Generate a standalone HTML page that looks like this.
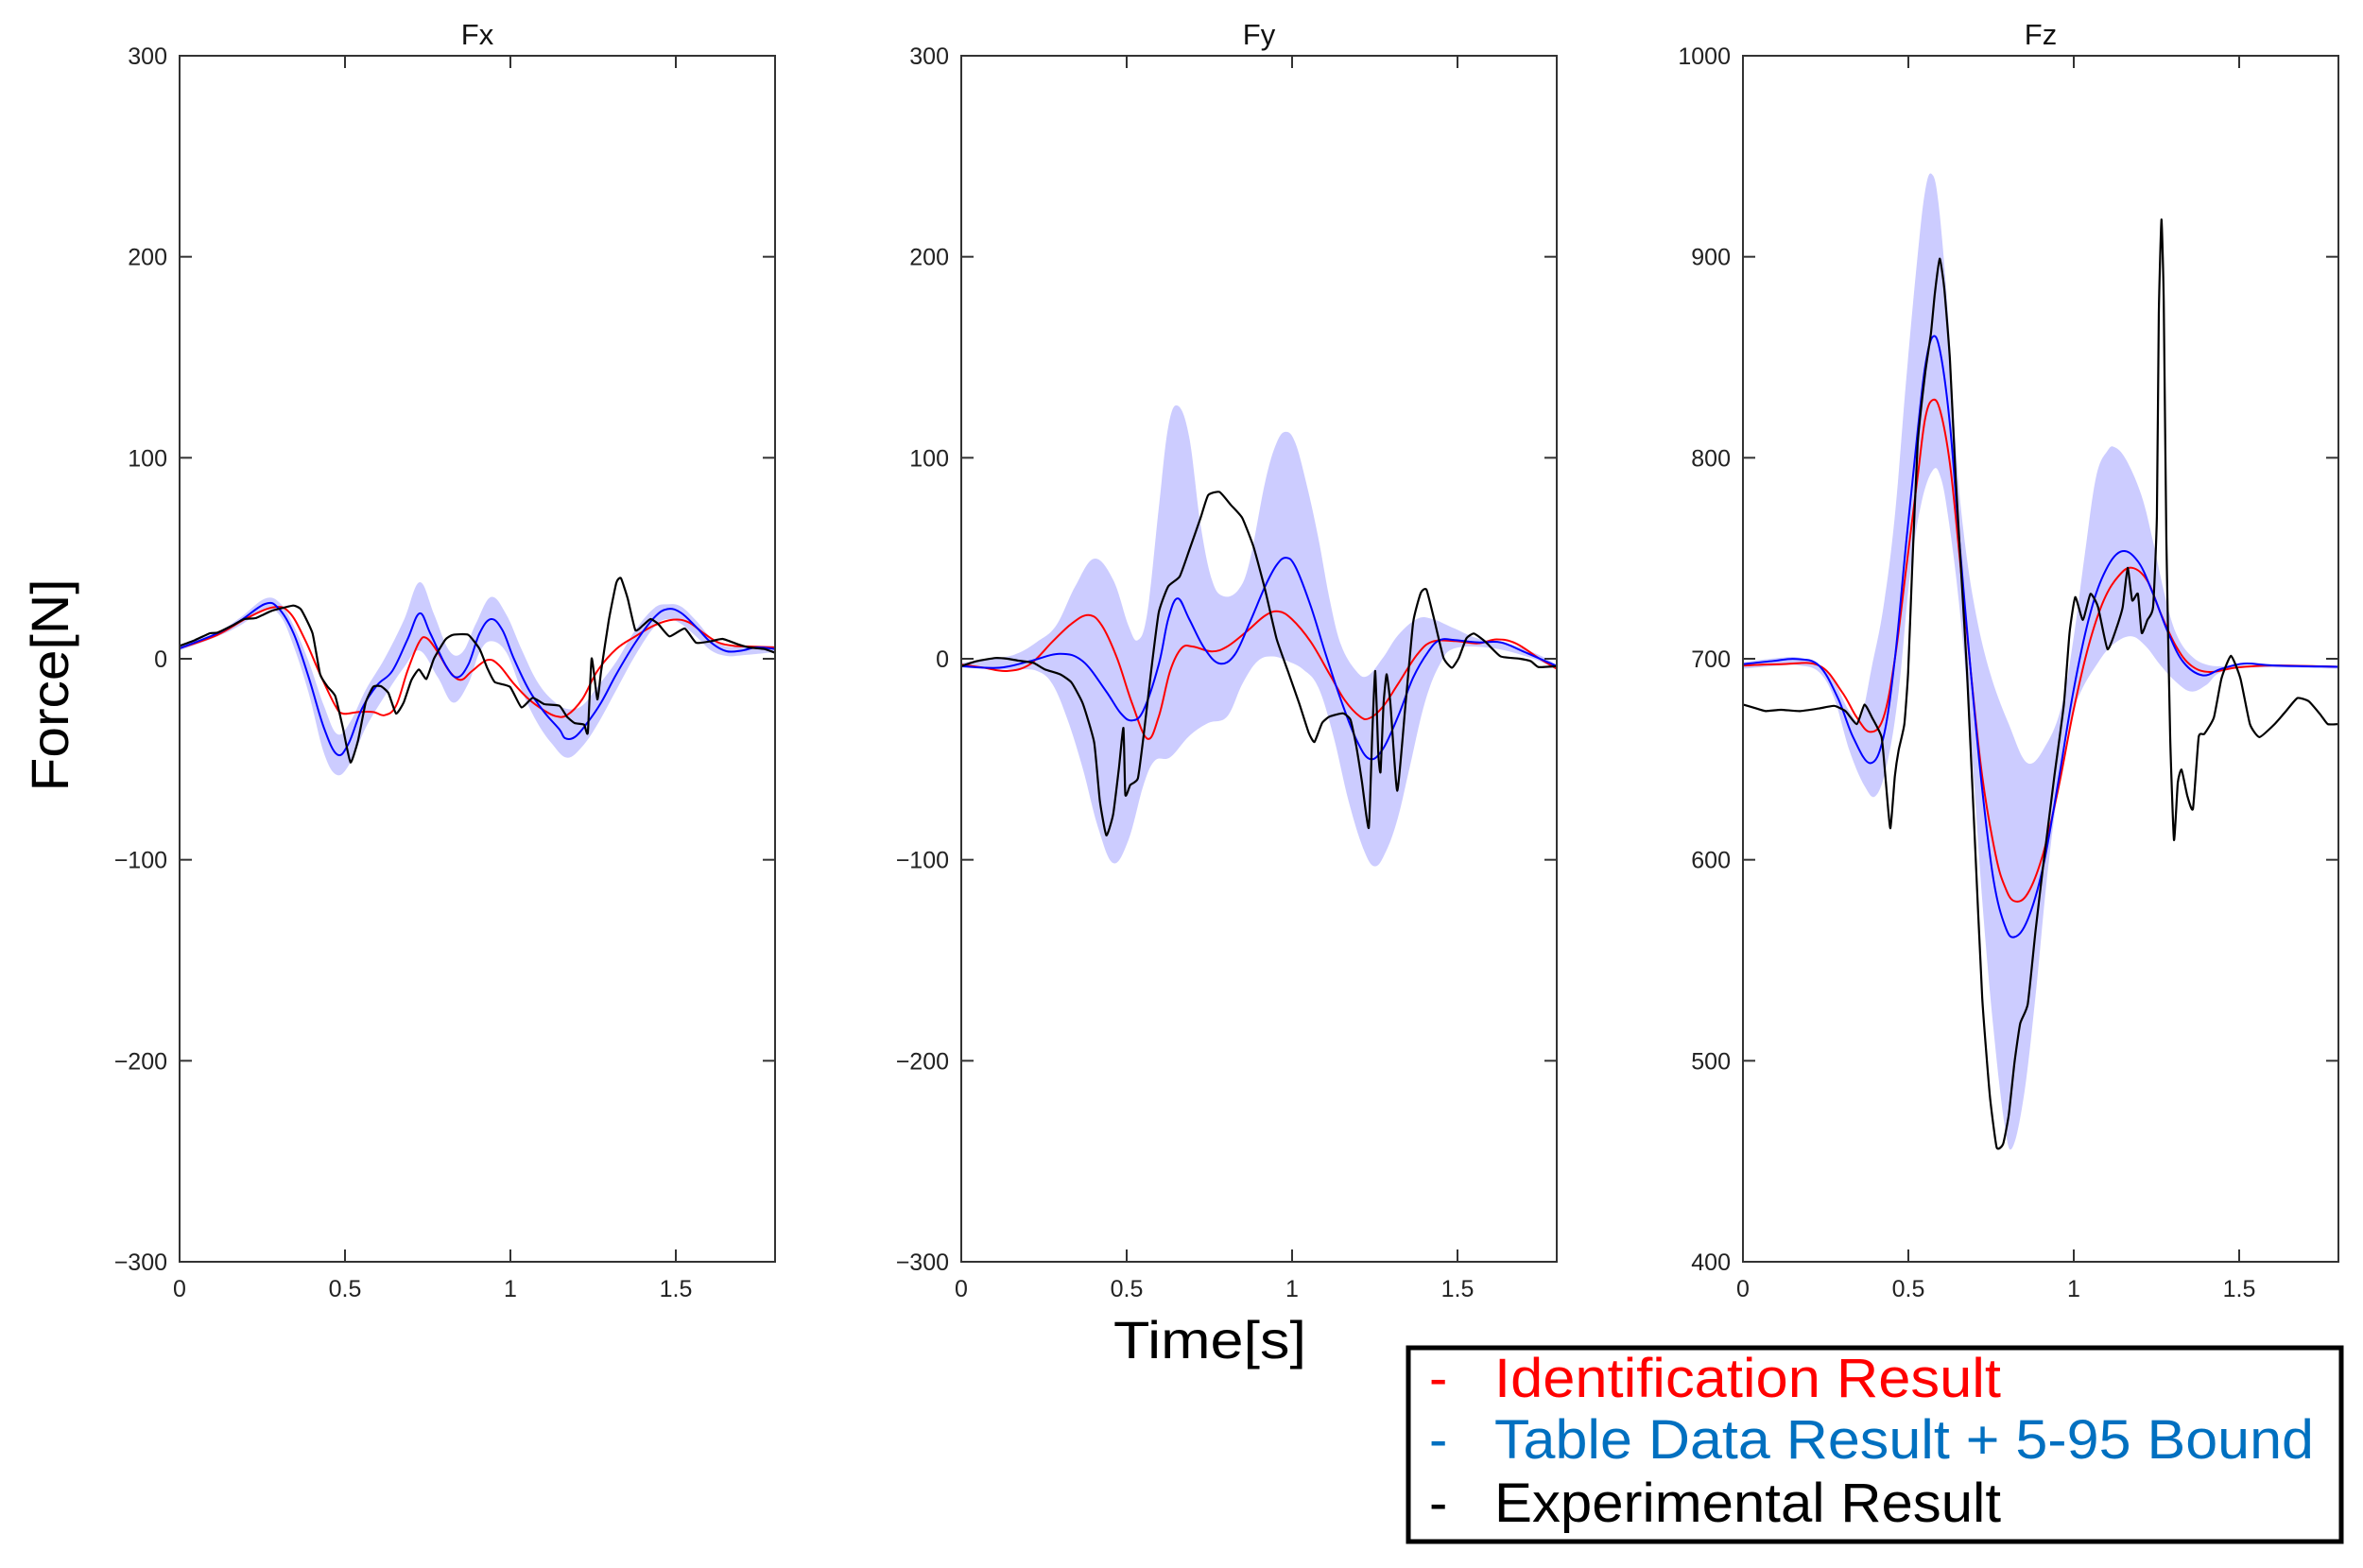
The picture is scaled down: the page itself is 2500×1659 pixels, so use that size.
<!DOCTYPE html>
<html><head><meta charset="utf-8"><style>
html,body{margin:0;padding:0;background:#fff;}
svg{display:block;}
text{font-family:"Liberation Sans",sans-serif;}
</style></head><body>
<svg id="s" xmlns="http://www.w3.org/2000/svg" width="2500" height="1659" viewBox="0 0 2500 1659">
<rect width="2500" height="1659" fill="#fff"/>
<g id="plots"></g>
<g id="axes"></g>
<text x="72" y="725" font-size="56" text-anchor="middle" transform="rotate(-90 72 725)" textLength="225" lengthAdjust="spacingAndGlyphs">Force[N]</text>
<text x="1280" y="1437" font-size="56" text-anchor="middle" textLength="204" lengthAdjust="spacingAndGlyphs">Time[s]</text>
<rect x="1490" y="1426" width="987" height="205" fill="none" stroke="#000" stroke-width="5"/>
<text x="1512" y="1478" font-size="58" fill="#ff0000">-</text>
<text x="1581" y="1478" font-size="58" fill="#ff0000" textLength="536" lengthAdjust="spacingAndGlyphs">Identification Result</text>
<text x="1512" y="1543" font-size="58" fill="#0070c0">-</text>
<text x="1581" y="1543" font-size="58" fill="#0070c0" textLength="867" lengthAdjust="spacingAndGlyphs">Table Data Result + 5-95 Bound</text>
<text x="1512" y="1610" font-size="58" fill="#000">-</text>
<text x="1581" y="1610" font-size="58" fill="#000" textLength="536" lengthAdjust="spacingAndGlyphs">Experimental Result</text>
</svg>
<script>
var NS="http://www.w3.org/2000/svg";
function el(tag,attrs,parent,txt){var e=document.createElementNS(NS,tag);for(var k in attrs)e.setAttribute(k,attrs[k]);if(txt!==undefined)e.textContent=txt;parent.appendChild(e);return e;}
function P(a){var r=[];for(var i=0;i<a.length;i+=2)r.push([a[i],a[i+1]]);return r;}
function smooth(pts,start,t){if(t===undefined)t=0.18;var d=start?"M"+pts[0][0]+","+pts[0][1]:"L"+pts[0][0]+","+pts[0][1];
 for(var i=0;i<pts.length-1;i++){var p0=pts[Math.max(i-1,0)],p1=pts[i],p2=pts[i+1],p3=pts[Math.min(i+2,pts.length-1)];
 var c1=[p1[0]+(p2[0]-p0[0])*t,p1[1]+(p2[1]-p0[1])*t],c2=[p2[0]-(p3[0]-p1[0])*t,p2[1]-(p3[1]-p1[1])*t];
 d+="C"+c1[0].toFixed(1)+","+c1[1].toFixed(1)+" "+c2[0].toFixed(1)+","+c2[1].toFixed(1)+" "+p2[0]+","+p2[1];}
 return d;}
var plots=document.getElementById("plots"),axes=document.getElementById("axes");
function panel(cfg){
 var g=el("g",{transform:"translate("+cfg.zx+","+cfg.zy+") scale("+(630/1568)+","+cfg.sy+")"},plots);
 var up=P(cfg.up),lo=P(cfg.lo).reverse();
 el("path",{d:smooth(up,true)+smooth(lo,false)+"Z",fill:"#ccccff",stroke:"none"},g);
 el("path",{d:smooth(P(cfg.red),true),fill:"none",stroke:"#ff0000","stroke-width":"2","vector-effect":"non-scaling-stroke"},g);
 el("path",{d:smooth(P(cfg.blue),true),fill:"none",stroke:"#0000ff","stroke-width":"2","vector-effect":"non-scaling-stroke"},g);
 el("path",{d:smooth(P(cfg.black),true,0.08),fill:"none",stroke:"#000","stroke-width":"2.2","vector-effect":"non-scaling-stroke","stroke-linejoin":"round"},g);
 var L=cfg.x0,R=cfg.x0+630,T=59,B=1335;
 el("rect",{x:L,y:T,width:630,height:B-T,fill:"none",stroke:"#333","stroke-width":"2"},axes);
 for(var i=0;i<=6;i++){var y=T+(B-T)*i/6;
  el("line",{x1:L,y1:y,x2:L+13,y2:y,stroke:"#333","stroke-width":"2"},axes);
  el("line",{x1:R,y1:y,x2:R-13,y2:y,stroke:"#333","stroke-width":"2"},axes);
  el("text",{x:L-13,y:y+9,"font-size":"25","text-anchor":"end",fill:"#222"},axes,cfg.lab[i]);}
 var xl=["0","0.5","1","1.5"];
 for(var j=0;j<4;j++){var x=L+175*j;
  if(j>0){el("line",{x1:x,y1:B,x2:x,y2:B-13,stroke:"#333","stroke-width":"2"},axes);
  el("line",{x1:x,y1:T,x2:x,y2:T+13,stroke:"#333","stroke-width":"2"},axes);}
  el("text",{x:x,y:1372,"font-size":"25","text-anchor":"middle",fill:"#222"},axes,xl[j]);}
 el("text",{x:L+315,y:47,"font-size":"31","text-anchor":"middle",fill:"#111"},axes,cfg.title);
}
var m=["300","200","100","0","\u2212100","\u2212200","\u2212300"];
panel({x0:190,zx:190,zy:590,sy:230/690,title:"Fx",lab:m,
up:[0,280,100,235,160,190,225,130,265,145,300,215,340,330,380,470,415,560,450,520,490,420,540,320,590,200,632,78,670,180,710,295,745,300,780,210,820,125,860,180,900,290,940,390,980,450,1020,480,1060,470,1100,410,1150,330,1200,230,1250,160,1285,148,1320,155,1360,200,1400,255,1440,282,1480,280,1568,280],
lo:[0,295,100,250,160,215,225,165,265,185,300,280,340,430,380,620,415,690,450,650,490,540,540,440,590,350,632,295,680,380,720,460,760,400,790,300,820,265,860,300,900,420,940,520,980,590,1020,635,1060,600,1100,530,1150,420,1200,310,1250,220,1285,195,1320,210,1360,250,1400,295,1440,312,1480,310,1568,300],
blue:[0,288,100,240,160,200,225,147,260,160,300,240,340,380,380,540,415,625,445,590,480,480,520,405,560,360,600,260,632,177,660,240,700,340,730,380,760,340,790,240,820,195,850,230,880,320,920,420,960,490,1000,545,1015,573,1040,570,1070,530,1110,460,1150,370,1200,270,1250,190,1285,163,1320,175,1360,220,1400,270,1440,297,1480,295,1520,285,1568,290],
red:[0,288,100,245,180,190,250,157,290,175,330,260,370,370,410,470,430,495,470,490,510,490,540,500,570,470,600,360,630,270,650,255,680,300,710,360,740,388,770,360,810,325,840,340,880,400,920,450,960,485,990,503,1020,500,1060,450,1100,360,1150,290,1200,250,1250,215,1300,197,1340,205,1380,240,1420,270,1460,280,1500,282,1568,285],
black:[0,280,40,262,80,240,100,238,140,215,170,195,200,192,240,170,270,160,300,152,320,165,350,240,370,370,390,410,410,440,430,540,450,650,470,580,490,460,510,410,530,408,550,430,570,495,590,460,610,390,630,355,650,385,670,320,700,260,720,245,760,245,790,290,810,350,830,395,870,410,900,475,930,445,960,465,1000,470,1020,505,1040,525,1065,530,1075,555,1085,320,1100,450,1110,360,1130,200,1150,80,1162,65,1180,130,1200,230,1220,215,1240,195,1260,210,1290,250,1330,225,1360,270,1400,265,1430,258,1470,275,1500,285,1540,290,1568,302]});
panel({x0:1017,zx:1017,zy:400,sy:540/1568,title:"Fy",lab:m,
up:[0,875,100,860,150,845,200,810,250,760,300,640,350,555,400,620,440,760,465,805,490,720,520,400,545,150,570,85,600,180,630,450,660,620,690,670,730,650,760,560,800,320,830,200,855,165,880,200,910,330,940,490,970,680,1000,820,1040,900,1070,915,1110,860,1150,790,1200,740,1240,740,1300,770,1360,800,1450,820,1520,850,1568,880],
lo:[0,890,100,895,150,895,200,900,240,940,280,1050,320,1200,360,1380,400,1490,440,1420,480,1250,510,1175,550,1165,600,1100,650,1060,700,1040,740,940,780,870,820,855,860,870,900,895,940,950,980,1100,1020,1300,1060,1450,1090,1500,1120,1450,1150,1350,1180,1200,1220,1000,1260,880,1300,830,1400,830,1500,860,1568,895],
blue:[0,885,100,890,180,870,260,847,320,870,380,960,420,1030,450,1052,480,1020,520,880,545,740,570,677,600,740,640,830,680,877,720,850,760,750,800,640,830,575,855,552,880,580,920,700,960,850,1000,990,1040,1110,1075,1170,1110,1140,1150,1040,1190,920,1230,840,1260,805,1300,805,1360,812,1420,812,1480,840,1568,885],
red:[0,880,60,890,120,900,180,880,240,810,290,755,335,728,370,760,410,860,450,1000,490,1108,520,1040,550,900,580,830,610,825,660,840,700,825,750,780,800,730,835,717,870,740,920,810,970,910,1010,990,1050,1040,1075,1045,1110,1010,1150,940,1200,850,1240,810,1300,808,1360,815,1410,803,1460,815,1520,860,1568,893],
black:[0,885,40,870,90,860,120,862,150,868,190,875,220,895,260,910,290,935,320,1000,350,1120,365,1300,382,1405,400,1340,415,1200,427,1075,432,1280,445,1250,465,1230,480,1100,500,900,520,720,545,640,575,610,600,530,630,430,650,360,680,350,710,390,740,430,770,520,800,650,830,800,860,900,890,1000,915,1090,930,1118,950,1060,970,1040,1005,1030,1025,1050,1040,1130,1055,1240,1073,1382,1082,1100,1090,900,1098,1150,1104,1210,1112,1000,1120,910,1130,1000,1148,1268,1170,1000,1190,750,1210,660,1225,650,1245,740,1270,860,1292,890,1310,860,1330,800,1350,785,1380,810,1420,855,1470,862,1500,870,1520,888,1568,885]});
panel({x0:1844,zx:1844,zy:160,sy:1080/1568,title:"Fz",lab:["1000","900","800","700","600","500","400"],
up:[0,785,100,778,150,778,200,790,240,815,280,860,310,870,340,790,370,700,400,560,430,350,460,160,480,60,497,35,515,80,540,250,560,450,580,580,610,700,650,800,700,880,750,940,800,910,840,850,870,750,900,620,930,500,960,460,980,455,1010,475,1050,530,1080,600,1110,680,1140,740,1180,775,1230,790,1300,790,1400,790,1568,790],
lo:[0,795,100,790,150,790,200,800,240,840,280,920,320,975,350,990,380,940,410,830,440,650,470,540,500,490,520,500,540,560,570,700,600,900,630,1150,660,1350,690,1500,710,1530,740,1450,770,1300,800,1120,830,980,860,880,890,830,930,790,970,760,1020,745,1060,760,1100,790,1140,815,1180,830,1220,820,1260,800,1350,793,1568,795],
blue:[0,788,80,783,140,780,200,790,250,840,290,900,335,940,370,900,400,780,430,600,460,430,480,330,500,285,520,310,545,420,570,600,600,800,630,980,660,1120,690,1190,715,1207,750,1180,790,1100,830,970,870,830,910,720,950,650,995,615,1040,630,1080,680,1120,740,1160,785,1210,805,1260,795,1320,787,1400,790,1568,792],
red:[0,790,100,788,200,790,260,830,300,870,335,892,370,870,400,780,430,640,460,500,480,410,500,382,520,400,545,480,570,620,600,800,630,960,665,1080,690,1130,715,1152,750,1140,790,1080,830,980,870,860,910,760,950,690,990,652,1025,640,1065,660,1100,710,1140,760,1180,790,1230,800,1300,793,1400,790,1568,792],
black:[0,850,30,855,60,860,100,858,150,860,200,856,240,852,270,860,300,880,320,850,340,870,365,900,375,960,388,1040,400,960,410,920,425,880,435,800,445,650,460,450,480,340,495,280,505,220,518,165,530,210,545,320,560,500,575,650,590,800,610,1050,630,1300,650,1450,668,1530,685,1525,700,1480,715,1400,730,1340,750,1310,770,1200,790,1100,820,960,845,850,860,740,875,685,895,720,915,680,935,700,960,765,985,730,1000,700,1013,640,1025,690,1040,680,1050,740,1065,720,1080,700,1090,560,1095,250,1102,105,1108,230,1115,600,1125,900,1135,1058,1145,970,1155,950,1170,990,1185,1010,1200,900,1215,895,1240,870,1260,810,1285,775,1310,810,1335,880,1360,900,1400,880,1430,860,1460,840,1490,845,1520,865,1540,880,1568,880]});
</script>
</body></html>
